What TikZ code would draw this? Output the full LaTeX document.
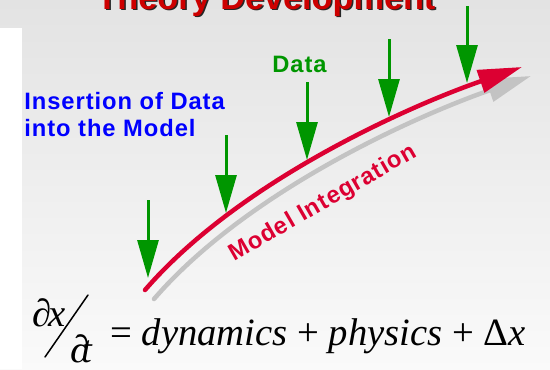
\documentclass[tikz,border=0pt]{standalone}
\usepackage{fontspec}
\setmainfont{Liberation Serif}
\newfontfamily\labelfont[LetterSpace=4]{Liberation Sans}
\newfontfamily\titlefont{Liberation Sans}
\usetikzlibrary{arrows.meta}
\definecolor{datagreen}{RGB}{0,150,0}
\definecolor{modelred}{RGB}{220,0,50}
\definecolor{titlered}{RGB}{205,0,0}
\definecolor{insertblue}{RGB}{0,0,255}
\definecolor{shadowgray}{RGB}{195,195,195}

\begin{document}
\begin{tikzpicture}[x=0.02cm, y=-0.02cm,
    sanslabel/.style={font=\labelfont\bfseries\fontsize{13.5}{15.4}\selectfont, inner sep=0pt},
    titletext/.style={font=\titlefont\bfseries\fontsize{19.5}{22}\selectfont, inner sep=0pt, anchor=base},
    eqtext/.style={font=\fontsize{22}{26}\selectfont, inner sep=0pt, anchor=base west},
    dataarrow/.style={draw=datagreen, fill=datagreen, line width=0.06cm, -{Triangle[length=0.76cm, width=0.42cm]}},
    modelline/.style={draw=modelred, fill=none, line width=0.09cm, line cap=round, -{Triangle[length=0.88cm, width=0.46cm, fill=modelred]}},
    shadowline/.style={draw=shadowgray, line width=0.09cm, line cap=round, -{Triangle[length=0.88cm, width=0.46cm, fill=shadowgray]}},
  ]
    \useasboundingbox (0,0) rectangle (550,369);
    \clip (0,0) rectangle (550,369);

    % background
    \shade[top color=gray!22, bottom color=gray!4] (0,0) rectangle (550,369);
    \fill[white] (0,28) rectangle (22,369);

    % title, cut off at the top
    \node[titletext, text=black!85] (titleshadow) at (267.5,10.5) {Theory Development};
    \node[titletext, text=titlered] (title) at (266,9) {Theory Development};

    % model trajectory
    \coordinate (sstart) at (154,299);
    \coordinate (send) at (531,76);
    \coordinate (mstart) at (145,290);
    \coordinate (mend) at (522,67);
    \draw[shadowline] (sstart) .. controls (249,189) and (421,114) .. (send);
    \draw[modelline] (mstart) .. controls (240,180) and (412,105) .. (mend);
    \node[sanslabel, text=modelred, rotate=30, anchor=base west] (integration) at (234,262) {Model Integration};

    % data insertion
    \coordinate (d1top) at (148,200);
    \coordinate (d1tip) at (148,278);
    \coordinate (d2top) at (226,135);
    \coordinate (d2tip) at (226,213);
    \coordinate (d3top) at (307,82);
    \coordinate (d3tip) at (307,160);
    \coordinate (d4top) at (389,39);
    \coordinate (d4tip) at (389,117);
    \coordinate (d5top) at (467,6);
    \coordinate (d5tip) at (467,83);
    \draw[dataarrow] (d1top) -- (d1tip);
    \draw[dataarrow] (d2top) -- (d2tip);
    \draw[dataarrow] (d3top) -- (d3tip);
    \draw[dataarrow] (d4top) -- (d4tip);
    \draw[dataarrow] (d5top) -- (d5tip);

    \node[sanslabel, text=datagreen, anchor=base west] (datalabel) at (272,72) {Data};
    \node[sanslabel, text=insertblue, align=left, anchor=north west] (insertion) at (24,92) {Insertion of Data\\into the Model};

    % equation
    \node[eqtext] (numer) at (32,326) {\textit{∂\kern-0.08em x}};
    \coordinate (slashtop) at (88,295);
    \coordinate (slashbot) at (45,357);
    \draw[line width=0.03cm, line cap=round] (slashtop) -- (slashbot);
    \node[eqtext] (denom) at (70,362) {\textit{∂\kern-0.2em t}};
    \node[eqtext] (rhs) at (110,345) {= \textit{dynamics} + \textit{physics} + Δ\textit{x}};
\end{tikzpicture}
\end{document}
